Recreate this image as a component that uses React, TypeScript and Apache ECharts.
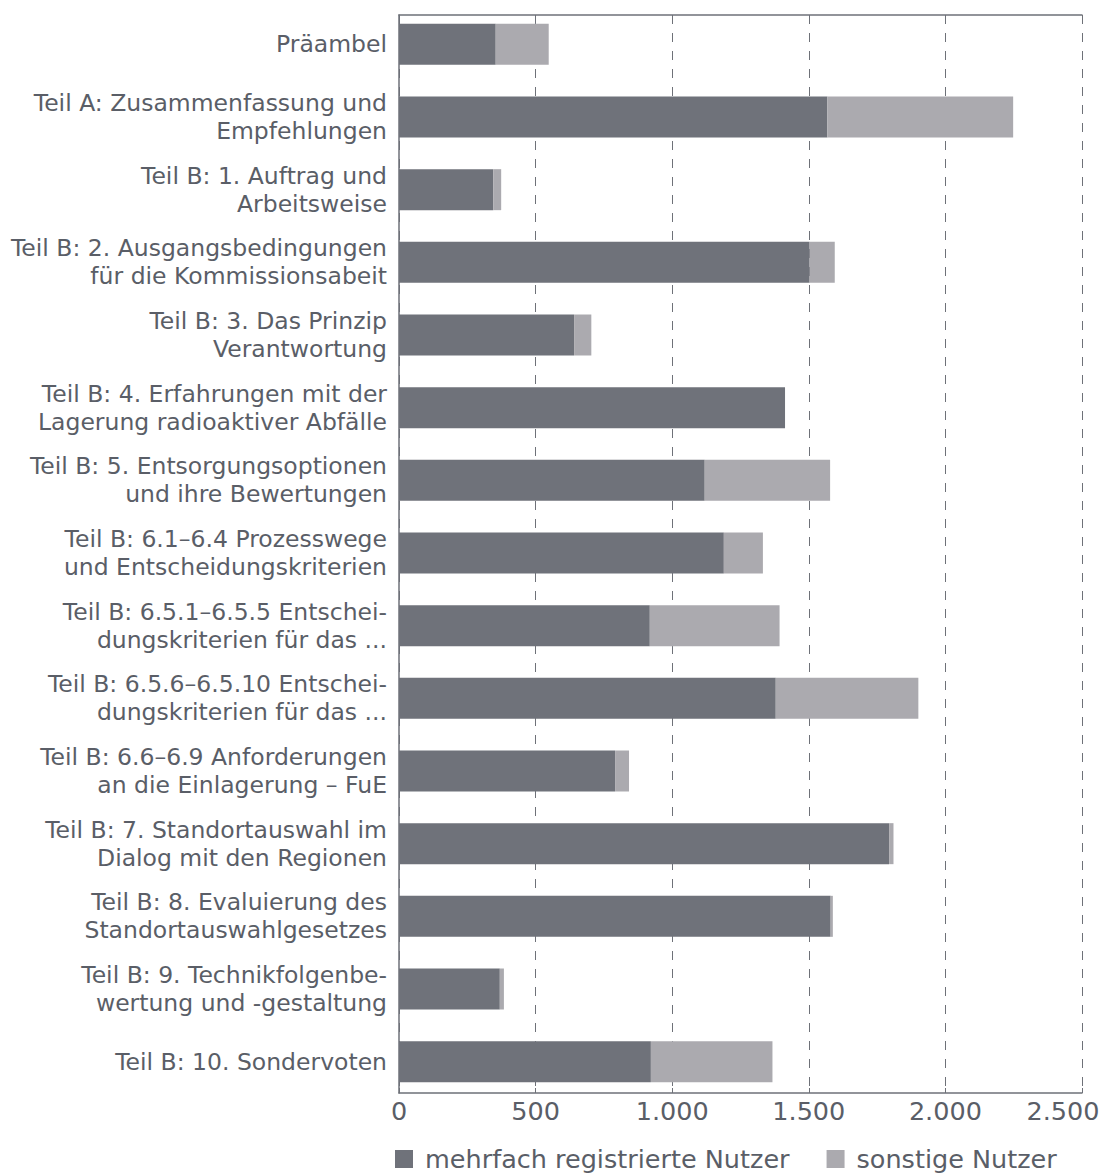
import React, { useEffect, useRef } from "react";
import * as echarts from "echarts";

const categories = [
  "Präambel",
  "Teil A: Zusammenfassung und\nEmpfehlungen",
  "Teil B: 1. Auftrag und\nArbeitsweise",
  "Teil B: 2. Ausgangsbedingungen\nfür die Kommissionsabeit",
  "Teil B: 3. Das Prinzip\nVerantwortung",
  "Teil B: 4. Erfahrungen mit der\nLagerung radioaktiver Abfälle",
  "Teil B: 5. Entsorgungsoptionen\nund ihre Bewertungen",
  "Teil B: 6.1–6.4 Prozesswege\nund Entscheidungskriterien",
  "Teil B: 6.5.1–6.5.5 Entschei-\ndungskriterien für das ...",
  "Teil B: 6.5.6–6.5.10 Entschei-\ndungskriterien für das ...",
  "Teil B: 6.6–6.9 Anforderungen\nan die Einlagerung – FuE",
  "Teil B: 7. Standortauswahl im\nDialog mit den Regionen",
  "Teil B: 8. Evaluierung des\nStandortauswahlgesetzes",
  "Teil B: 9. Technikfolgenbe-\nwertung und -gestaltung",
  "Teil B: 10. Sondervoten",
];

const mehrfachRegistriert = [354, 1568, 345, 1503, 641, 1413, 1119, 1189, 918, 1379, 791, 1794, 1580, 369, 922];
const sonstige = [194, 680, 29, 92, 63, 0, 459, 143, 475, 522, 51, 16, 8, 15, 445];

const seriesNames = ["mehrfach registrierte Nutzer", "sonstige Nutzer"];
const xTicks = [0, 500, 1000, 1500, 2000, 2500];

const TEXT = "#5a5e67";
const LINE = "#6e7178";
const FONT = "DejaVu Sans";

export default function App() {
  const ref = useRef<HTMLDivElement>(null);
  useEffect(() => {
    if (!ref.current) return;
    const chart = echarts.init(ref.current, undefined, { renderer: "svg" });
    const xMin = xTicks[0];
    const xMax = xTicks[xTicks.length - 1];
    const xInt = xTicks[1] - xTicks[0];
    chart.setOption({
      animation: false,
      textStyle: { fontFamily: FONT },
      grid: [
        { left: 399, right: 28, top: 15, bottom: 81 },
        { left: 399, right: 28, top: 8, height: 1090 },
      ],
      legend: {
        data: seriesNames,
        left: 395,
        top: 1146,
        padding: 0,
        icon: "rect",
        itemWidth: 18,
        itemHeight: 18,
        itemGap: 37,
        textStyle: { color: TEXT, fontSize: 25.5, fontFamily: FONT, padding: [0, 0, 0, 7] },
      },
      xAxis: [
        {
          gridIndex: 0,
          type: "value",
          position: "bottom",
          min: xMin,
          max: xMax,
          interval: xInt,
          axisLine: { show: true, lineStyle: { color: LINE, width: 1.5 } },
          axisTick: { show: true, inside: true, length: 5, lineStyle: { color: LINE } },
          splitLine: { show: true, lineStyle: { color: LINE, type: [9, 9], width: 1 } },
          axisLabel: {
            color: TEXT,
            fontSize: 25.5,
            fontFamily: FONT,
            margin: 5,
            formatter: (v: number) => {
              const s = v >= 1000 ? Math.floor(v / 1000) + "." + String(v % 1000).padStart(3, "0") : String(v);
              return v === xMax ? "{last|" + s + "}" : s;
            },
            rich: { last: { padding: [0, 38, 0, 0], fontSize: 25.5, color: TEXT, fontFamily: FONT } },
          },
        },
        {
          gridIndex: 0,
          type: "value",
          position: "top",
          min: xMin,
          max: xMax,
          axisLine: { show: true, lineStyle: { color: LINE, width: 1.5 } },
          axisTick: { show: false },
          axisLabel: { show: false },
          splitLine: { show: false },
        },
        {
          gridIndex: 1,
          type: "value",
          min: xMin,
          max: xMax,
          show: false,
          splitLine: { show: false },
        },
      ],
      yAxis: [
        {
          gridIndex: 0,
          type: "value",
          axisLine: { show: true, lineStyle: { color: LINE, width: 1.5 } },
          axisTick: { show: false },
          axisLabel: { show: false },
          splitLine: { show: false },
        },
        {
          gridIndex: 1,
          type: "category",
          inverse: true,
          data: categories,
          axisLine: { show: false },
          axisTick: { show: false },
          axisLabel: {
            color: TEXT,
            fontSize: 23.5,
            lineHeight: 28,
            fontFamily: FONT,
            align: "right",
            margin: 12,
            interval: 0,
          },
        },
      ],
      series: [
        {
          name: seriesNames[0],
          type: "bar",
          stack: "total",
          xAxisIndex: 2,
          yAxisIndex: 1,
          barWidth: 41,
          itemStyle: { color: "#6f727a" },
          data: mehrfachRegistriert,
        },
        {
          name: seriesNames[1],
          type: "bar",
          stack: "total",
          xAxisIndex: 2,
          yAxisIndex: 1,
          barWidth: 41,
          itemStyle: { color: "#abaaaf" },
          data: sonstige,
        },
      ],
    });
    return () => chart.dispose();
  }, []);
  return (
    <div
      ref={ref}
      style={{ position: "absolute", left: 0, top: 0, width: 1110, height: 1174 }}
    />
  );
}
